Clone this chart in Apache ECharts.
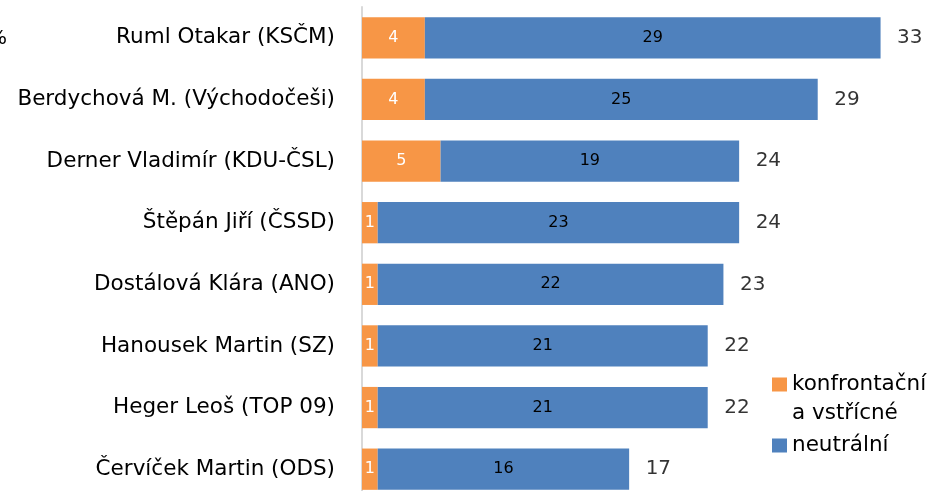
<!DOCTYPE html>
<html>
<head>
<meta charset="utf-8">
<script src="https://cdn.jsdelivr.net/npm/echarts@6/dist/echarts.min.js"></script>
<style>
  html, body { margin: 0; padding: 0; background: #fff; }
  #chart { width: 934px; height: 491px; }
</style>
</head>
<body>
<div id="chart"></div>
<script>
// ---- DATA ----
const categories = [
  'Ruml Otakar (KSČM)',
  'Berdychová M. (Východočeši)',
  'Derner Vladimír (KDU-ČSL)',
  'Štěpán Jiří (ČSSD)',
  'Dostálová Klára (ANO)',
  'Hanousek Martin (SZ)',
  'Heger Leoš (TOP 09)',
  'Červíček Martin (ODS)'
];
const confrontational = [4, 4, 5, 1, 1, 1, 1, 1];
const neutral = [29, 25, 19, 23, 22, 21, 21, 16];
const seriesNames = ['konfrontační a vstřícné', 'neutrální'];

const totals = confrontational.map((v, i) => v + neutral[i]);

// ---- CHART ----
const chart = echarts.init(document.getElementById('chart'), null, { renderer: 'canvas' });
const font = '"DejaVu Sans", "Open Sans", sans-serif';

// legend icons: 15x14 square inside a 43px tall box (tiny corner dots keep the box size)
const iconTop = 'path://M0,0L15,0L15,14L0,14Z M0,43L0.01,43L0.01,42.99Z';
const iconMid = 'path://M0,0L0.01,0L0.01,0.01Z M0,14.5L15,14.5L15,28.5L0,28.5Z M0,43L0.01,43L0.01,42.99Z';

chart.setOption({
  animation: false,
  backgroundColor: '#fff',
  grid: { left: 362, right: 22, top: 7, height: 493, outerBoundsMode: 'none', containLabel: false },
  xAxis: {
    type: 'value', min: 0, max: 35,
    show: false
  },
  yAxis: {
    type: 'category',
    data: categories,
    inverse: true,
    axisLine: { show: true, lineStyle: { color: '#d9d9d9', width: 2 } },
    axisTick: { show: false },
    axisLabel: { color: '#000', fontSize: 21.5, fontFamily: font, margin: 27 }
  },
  legend: {
    orient: 'vertical',
    left: 767, top: 365,
    itemWidth: 15, itemHeight: 43,
    itemGap: -4,
    data: [
      { name: seriesNames[0], icon: iconTop },
      { name: seriesNames[1], icon: iconMid }
    ],
    formatter: name => name.replace(' a ', '\na '),
    textStyle: { color: '#000', fontSize: 21.5, fontFamily: font, lineHeight: 29 }
  },
  series: [
    {
      name: seriesNames[0], type: 'bar', stack: 'total',
      data: confrontational, barCategoryGap: '33%',
      itemStyle: { color: '#F79646' },
      label: { show: true, position: 'inside', color: '#fff', fontSize: 16, fontFamily: font }
    },
    {
      name: seriesNames[1], type: 'bar', stack: 'total',
      data: neutral, barCategoryGap: '33%',
      itemStyle: { color: '#4F81BD' },
      label: { show: true, position: 'inside', color: '#000', fontSize: 16, fontFamily: font }
    },
    {
      name: 'celkem', type: 'scatter',
      data: totals, symbolSize: 1,
      itemStyle: { color: 'rgba(0,0,0,0)' },
      label: { show: true, position: 'right', distance: 16, color: '#000', fontSize: 20, fontFamily: font },
      silent: true
    }
  ],
  graphic: [
    { type: 'text', left: -12, top: 29, style: { text: '%', fill: '#000', font: '20px ' + font } }
  ]
});
</script>
</body>
</html>
